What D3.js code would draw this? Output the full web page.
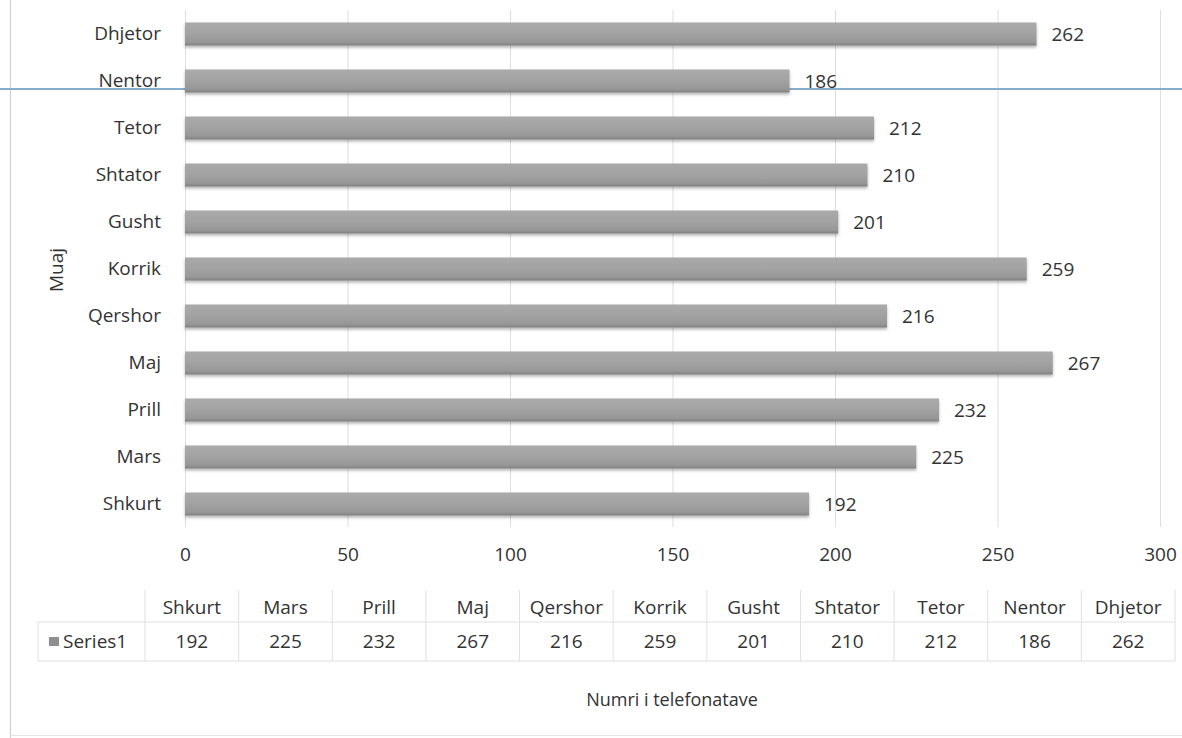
<!DOCTYPE html>
<html>
<head>
<meta charset="utf-8">
<script src="https://cdn.jsdelivr.net/npm/d3@7"></script>
<style>
  html, body { margin: 0; padding: 0; background: #ffffff; }
  svg { display: block; font-family: "Open Sans", "Noto Sans", sans-serif; }
</style>
</head>
<body>
<svg id="chart" width="1182" height="738"></svg>
<script>
// ---- data ----
const categories = ["Shkurt", "Mars", "Prill", "Maj", "Qershor", "Korrik", "Gusht", "Shtator", "Tetor", "Nentor", "Dhjetor"];
const values = [192, 225, 232, 267, 216, 259, 201, 210, 212, 186, 262];
const xTicks = [0, 50, 100, 150, 200, 250, 300];
const seriesName = "Series1";
const yTitle = "Muaj";
const xTitle = "Numri i telefonatave";

const svg = d3.select("#chart");
const W = 1182, H = 738;
const textColor = "#333333";

const x = d3.scaleLinear().domain([0, 300]).range([185, 1160]);
const y = d3.scaleBand()
  .domain(categories.slice().reverse())
  .range([10.5, 527.5])
  .paddingInner(0.51)
  .paddingOuter(0.255);

// defs: bar gradient + shadow
const defs = svg.append("defs");
const grad = defs.append("linearGradient").attr("id", "barGrad")
  .attr("x1", 0).attr("y1", 0).attr("x2", 0).attr("y2", 1);
grad.append("stop").attr("offset", "0%").attr("stop-color", "#aaaaaa");
grad.append("stop").attr("offset", "45%").attr("stop-color", "#a3a3a3");
grad.append("stop").attr("offset", "85%").attr("stop-color", "#979797");
grad.append("stop").attr("offset", "100%").attr("stop-color", "#808080");
const filt = defs.append("filter").attr("id", "shadow")
  .attr("x", "-5%").attr("y", "-30%").attr("width", "110%").attr("height", "170%");
filt.append("feDropShadow").attr("dx", 0).attr("dy", 2).attr("stdDeviation", 1.5)
  .attr("flood-color", "#000").attr("flood-opacity", 0.3);

// outer frame lines (left border & bottom)
svg.append("line").attr("x1", 10.5).attr("x2", 10.5).attr("y1", 0).attr("y2", H)
  .attr("stroke", "#cfcfcf").attr("stroke-width", 1.2);
svg.append("line").attr("x1", 10).attr("x2", W).attr("y1", 735.5).attr("y2", 735.5)
  .attr("stroke", "#e4e4e4").attr("stroke-width", 1);

// gridlines
svg.append("g").selectAll("line").data(xTicks).join("line")
  .attr("x1", d => x(d) + 0.5).attr("x2", d => x(d) + 0.5)
  .attr("y1", 10).attr("y2", 527)
  .attr("stroke", "#dedede").attr("stroke-width", 1);

// blue scan line
svg.append("line").attr("x1", 0).attr("x2", W).attr("y1", 89).attr("y2", 89)
  .attr("stroke", "#86acce").attr("stroke-width", 2);

// bars
svg.append("g").selectAll("rect").data(categories).join("rect")
  .attr("x", x(0))
  .attr("y", d => y(d))
  .attr("width", (d, i) => x(values[i]) - x(0))
  .attr("height", y.bandwidth())
  .attr("fill", "url(#barGrad)")
  .attr("filter", "url(#shadow)");

// value labels
svg.append("g").selectAll("text").data(categories).join("text")
  .attr("x", (d, i) => x(values[i]) + 15)
  .attr("y", d => y(d) + y.bandwidth() / 2)
  .attr("dy", "0.35em")
  .attr("font-size", 19)
  .attr("fill", textColor)
  .text((d, i) => values[i]);

// category axis labels
const yAxis = d3.axisLeft(y).tickSize(0).tickPadding(0);
const gy = svg.append("g").attr("transform", "translate(161,0)").call(yAxis);
gy.select(".domain").remove();
gy.selectAll("text").attr("font-size", 19).attr("fill", textColor)
  .attr("font-family", "Open Sans, Noto Sans, sans-serif");

// x axis tick labels
const xAxis = d3.axisBottom(x).tickValues(xTicks).tickSize(0).tickPadding(0);
const gx = svg.append("g").attr("transform", "translate(0,547)").call(xAxis);
gx.select(".domain").remove();
gx.selectAll("text").attr("font-size", 19).attr("fill", textColor)
  .attr("font-family", "Open Sans, Noto Sans, sans-serif");

// y title
svg.append("text")
  .attr("transform", "translate(63,270) rotate(-90)")
  .attr("text-anchor", "middle")
  .attr("font-size", 19).attr("fill", textColor)
  .text(yTitle);

// data table
const t0 = 145, cellW = (1175 - 145) / categories.length;
const hTop = 590, hBot = 622, vBot = 661, legL = 38;
const col = d3.scaleBand().domain(categories).range([t0, t0 + cellW * categories.length]);
const tb = svg.append("g");
const border = "#e0e0e0";
tb.selectAll("line.v").data(d3.range(categories.length + 1)).join("line")
  .attr("class", "v")
  .attr("x1", i => t0 + i * cellW).attr("x2", i => t0 + i * cellW)
  .attr("y1", hTop).attr("y2", vBot)
  .attr("stroke", border);
tb.append("line").attr("x1", legL).attr("x2", t0 + cellW * categories.length)
  .attr("y1", hBot).attr("y2", hBot).attr("stroke", border);
tb.append("line").attr("x1", legL).attr("x2", t0 + cellW * categories.length)
  .attr("y1", vBot).attr("y2", vBot).attr("stroke", border);
tb.append("line").attr("x1", legL).attr("x2", legL)
  .attr("y1", hBot).attr("y2", vBot).attr("stroke", border);

tb.selectAll("text.h").data(categories).join("text")
  .attr("class", "h")
  .attr("x", d => col(d) + col.bandwidth() / 2)
  .attr("y", (hTop + hBot) / 2 + 1)
  .attr("dy", "0.35em").attr("text-anchor", "middle")
  .attr("font-size", 19).attr("fill", textColor)
  .text(d => d);
tb.selectAll("text.v").data(categories).join("text")
  .attr("class", "v")
  .attr("x", d => col(d) + col.bandwidth() / 2)
  .attr("y", (hBot + vBot) / 2)
  .attr("dy", "0.35em").attr("text-anchor", "middle")
  .attr("font-size", 19).attr("fill", textColor)
  .text((d, i) => values[i]);
// legend key
tb.append("rect").attr("x", 49).attr("y", 637).attr("width", 10).attr("height", 9)
  .attr("fill", "#8f8f8f");
tb.append("text").attr("x", 63).attr("y", (hBot + vBot) / 2)
  .attr("dy", "0.35em").attr("font-size", 19).attr("fill", textColor)
  .text(seriesName);

// x title
svg.append("text")
  .attr("x", 672).attr("y", 700).attr("dy", "0.35em")
  .attr("text-anchor", "middle")
  .attr("font-size", 18).attr("fill", textColor)
  .text(xTitle);
</script>
</body>
</html>
